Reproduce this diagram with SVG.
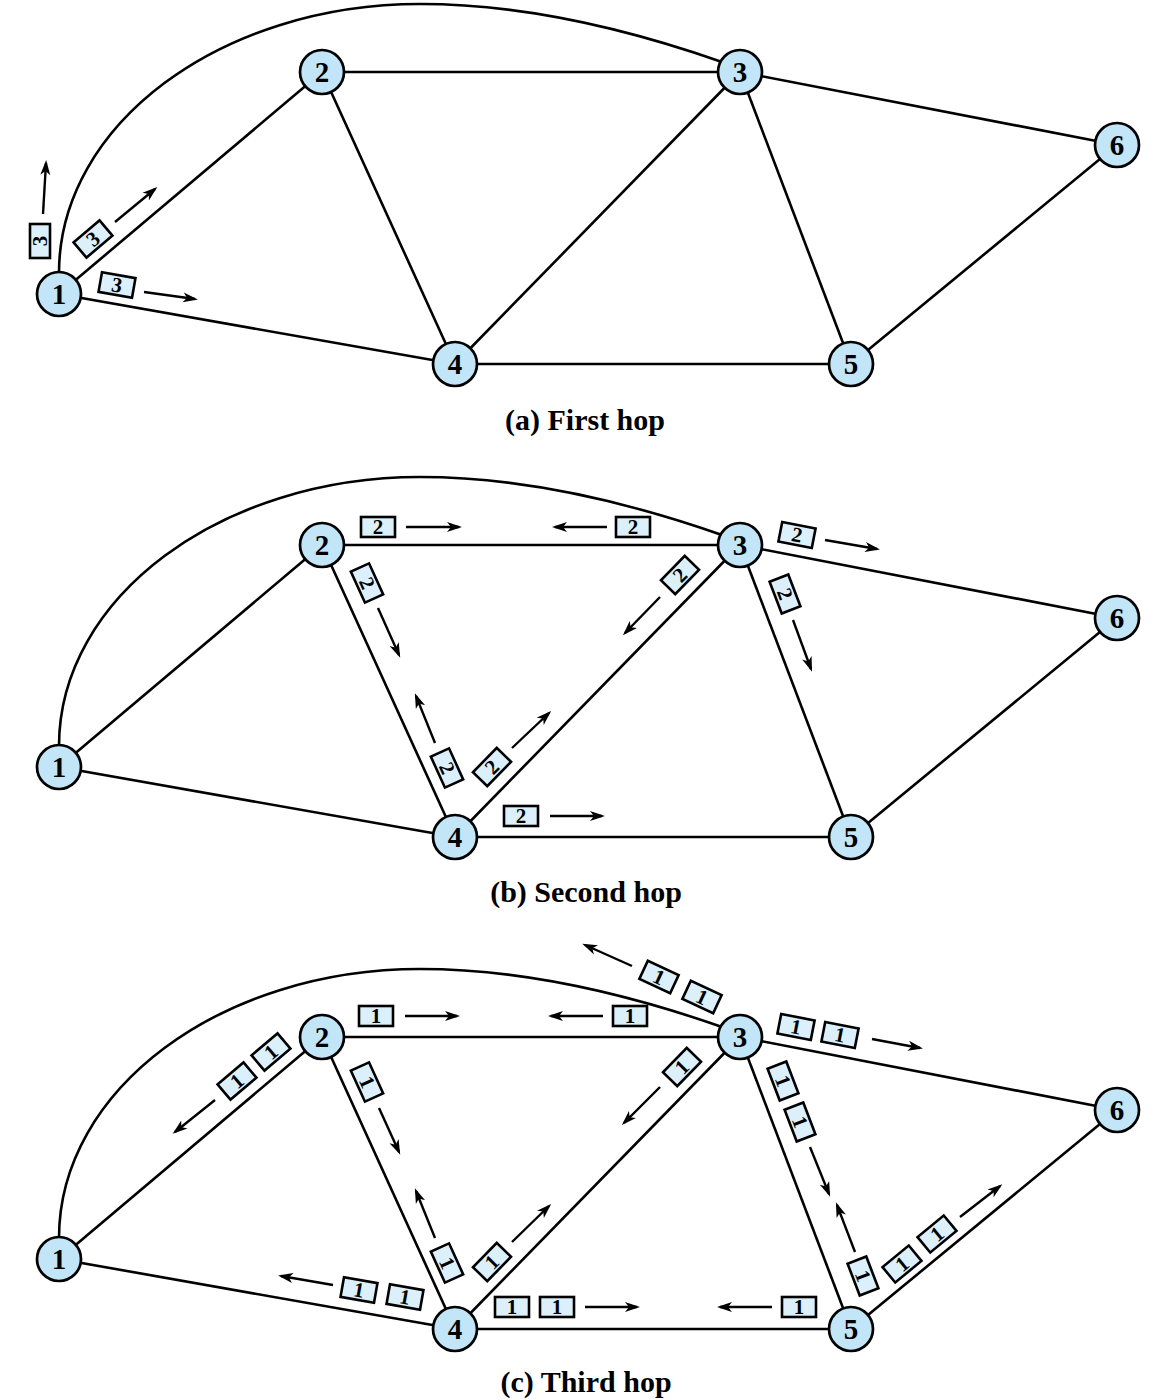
<svg xmlns="http://www.w3.org/2000/svg" width="1167" height="1400" viewBox="0 0 1167 1400">
<style>
.e{fill:none;stroke:#000;stroke-width:2.6}
.n{fill:#c2e5f7;stroke:#000;stroke-width:2.7}
.nt{font-family:"Liberation Serif",serif;font-weight:bold;font-size:29px;text-anchor:middle;fill:#000}
.pk{fill:#dcf0fb;stroke:#000;stroke-width:2.6}
.pt{font-family:"Liberation Serif",serif;font-weight:bold;font-size:21px;text-anchor:middle;fill:#000}
.ar{fill:none;stroke:#000;stroke-width:2.4;marker-end:url(#ah)}
.cap{font-family:"Liberation Serif",serif;font-weight:bold;font-size:30px;text-anchor:middle;fill:#000}
</style>
<defs>
<marker id="ah" markerUnits="userSpaceOnUse" markerWidth="16" markerHeight="12" viewBox="0 0 16 12" refX="12" refY="6" orient="auto">
<path d="M0,1 L15,6 L0,11 L4,6 z" fill="#000"/>
</marker>
</defs>

<!-- Panel (a) -->
<g id="panel-a">
<g id="a-edges">
<path class="e" d="M59,273 C59,124.5 220.7,4 420,4 C520,4 622,27 722,62"/>
<line class="e" x1="59" y1="294" x2="322" y2="72"/>
<line class="e" x1="59" y1="294" x2="455" y2="364"/>
<line class="e" x1="322" y1="72" x2="740" y2="72"/>
<line class="e" x1="322" y1="72" x2="455" y2="364"/>
<line class="e" x1="740" y1="72" x2="455" y2="364"/>
<line class="e" x1="740" y1="72" x2="851" y2="364"/>
<line class="e" x1="740" y1="72" x2="1117" y2="145"/>
<line class="e" x1="455" y1="364" x2="851" y2="364"/>
<line class="e" x1="851" y1="364" x2="1117" y2="145"/>
</g>
<g id="a-n1"><circle class="n" cx="59" cy="294" r="22"/><text class="nt" x="59" y="304">1</text></g>
<g id="a-n2"><circle class="n" cx="322" cy="72" r="22"/><text class="nt" x="322" y="82">2</text></g>
<g id="a-n3"><circle class="n" cx="740" cy="72" r="22"/><text class="nt" x="740" y="82">3</text></g>
<g id="a-n4"><circle class="n" cx="455" cy="364" r="22"/><text class="nt" x="455" y="374">4</text></g>
<g id="a-n5"><circle class="n" cx="851" cy="364" r="22"/><text class="nt" x="851" y="374">5</text></g>
<g id="a-n6"><circle class="n" cx="1117" cy="145" r="22"/><text class="nt" x="1117" y="155">6</text></g>
<g id="a-packets">
<g transform="translate(40,241) rotate(-90)"><rect class="pk" x="-17" y="-10" width="34" height="20"/><text class="pt" y="7">3</text></g>
<g transform="translate(93,239) rotate(-40.2)"><rect class="pk" x="-17" y="-10" width="34" height="20"/><text class="pt" y="7">3</text></g>
<g transform="translate(117,285) rotate(10)"><rect class="pk" x="-17" y="-10" width="34" height="20"/><text class="pt" y="7">3</text></g>
<line class="ar" x1="43" y1="214" x2="46" y2="163"/>
<line class="ar" x1="115" y1="222" x2="155" y2="189"/>
<line class="ar" x1="144" y1="292" x2="195" y2="299"/>
</g>
<text class="cap" x="585" y="430">(a) First hop</text>
</g>

<!-- Panel (b) -->
<g id="panel-b" transform="translate(0,473)">
<g id="b-edges">
<path class="e" d="M59,273 C59,124.5 220.7,4 420,4 C520,4 622,27 722,62"/>
<line class="e" x1="59" y1="294" x2="322" y2="72"/>
<line class="e" x1="59" y1="294" x2="455" y2="364"/>
<line class="e" x1="322" y1="72" x2="740" y2="72"/>
<line class="e" x1="322" y1="72" x2="455" y2="364"/>
<line class="e" x1="740" y1="72" x2="455" y2="364"/>
<line class="e" x1="740" y1="72" x2="851" y2="364"/>
<line class="e" x1="740" y1="72" x2="1117" y2="145"/>
<line class="e" x1="455" y1="364" x2="851" y2="364"/>
<line class="e" x1="851" y1="364" x2="1117" y2="145"/>
</g>
<g id="b-n1"><circle class="n" cx="59" cy="294" r="22"/><text class="nt" x="59" y="304">1</text></g>
<g id="b-n2"><circle class="n" cx="322" cy="72" r="22"/><text class="nt" x="322" y="82">2</text></g>
<g id="b-n3"><circle class="n" cx="740" cy="72" r="22"/><text class="nt" x="740" y="82">3</text></g>
<g id="b-n4"><circle class="n" cx="455" cy="364" r="22"/><text class="nt" x="455" y="374">4</text></g>
<g id="b-n5"><circle class="n" cx="851" cy="364" r="22"/><text class="nt" x="851" y="374">5</text></g>
<g id="b-n6"><circle class="n" cx="1117" cy="145" r="22"/><text class="nt" x="1117" y="155">6</text></g>
<g id="b-packets">
<g transform="translate(378,54)"><rect class="pk" x="-17" y="-10" width="34" height="20"/><text class="pt" y="7">2</text></g>
<g transform="translate(633,54)"><rect class="pk" x="-17" y="-10" width="34" height="20"/><text class="pt" y="7">2</text></g>
<g transform="translate(797,62) rotate(11)"><rect class="pk" x="-17" y="-10" width="34" height="20"/><text class="pt" y="7">2</text></g>
<g transform="translate(367,110) rotate(65.5)"><rect class="pk" x="-17" y="-10" width="34" height="20"/><text class="pt" y="7">2</text></g>
<g transform="translate(680,102) rotate(-45.6)"><rect class="pk" x="-17" y="-10" width="34" height="20"/><text class="pt" y="7">2</text></g>
<g transform="translate(785,121) rotate(69.1)"><rect class="pk" x="-17" y="-10" width="34" height="20"/><text class="pt" y="7">2</text></g>
<g transform="translate(447,295) rotate(65.5)"><rect class="pk" x="-17" y="-10" width="34" height="20"/><text class="pt" y="7">2</text></g>
<g transform="translate(492,294) rotate(-45.6)"><rect class="pk" x="-17" y="-10" width="34" height="20"/><text class="pt" y="7">2</text></g>
<g transform="translate(521,343)"><rect class="pk" x="-17" y="-10" width="34" height="20"/><text class="pt" y="7">2</text></g>
<line class="ar" x1="406" y1="54" x2="459" y2="54"/>
<line class="ar" x1="607" y1="54" x2="555" y2="54"/>
<line class="ar" x1="825" y1="67" x2="877" y2="76"/>
<line class="ar" x1="378" y1="135" x2="399" y2="182"/>
<line class="ar" x1="660" y1="124" x2="625" y2="160"/>
<line class="ar" x1="793" y1="147" x2="811" y2="196"/>
<line class="ar" x1="435" y1="270" x2="416" y2="223"/>
<line class="ar" x1="512" y1="275" x2="549" y2="240"/>
<line class="ar" x1="550" y1="343" x2="602" y2="343"/>
</g>
<text class="cap" x="586" y="429">(b) Second hop</text>
</g>

<!-- Panel (c) -->
<g id="panel-c" transform="translate(0,965)">
<g id="c-edges">
<path class="e" d="M59,273 C59,124.5 220.7,4 420,4 C520,4 622,27 722,62"/>
<line class="e" x1="59" y1="294" x2="322" y2="72"/>
<line class="e" x1="59" y1="294" x2="455" y2="364"/>
<line class="e" x1="322" y1="72" x2="740" y2="72"/>
<line class="e" x1="322" y1="72" x2="455" y2="364"/>
<line class="e" x1="740" y1="72" x2="455" y2="364"/>
<line class="e" x1="740" y1="72" x2="851" y2="364"/>
<line class="e" x1="740" y1="72" x2="1117" y2="145"/>
<line class="e" x1="455" y1="364" x2="851" y2="364"/>
<line class="e" x1="851" y1="364" x2="1117" y2="145"/>
</g>
<g id="c-n1"><circle class="n" cx="59" cy="294" r="22"/><text class="nt" x="59" y="304">1</text></g>
<g id="c-n2"><circle class="n" cx="322" cy="72" r="22"/><text class="nt" x="322" y="82">2</text></g>
<g id="c-n3"><circle class="n" cx="740" cy="72" r="22"/><text class="nt" x="740" y="82">3</text></g>
<g id="c-n4"><circle class="n" cx="455" cy="364" r="22"/><text class="nt" x="455" y="374">4</text></g>
<g id="c-n5"><circle class="n" cx="851" cy="364" r="22"/><text class="nt" x="851" y="374">5</text></g>
<g id="c-n6"><circle class="n" cx="1117" cy="145" r="22"/><text class="nt" x="1117" y="155">6</text></g>
<g id="c-packets">
<g transform="translate(659,12) rotate(25)"><rect class="pk" x="-17" y="-10" width="34" height="20"/><text class="pt" y="7">1</text></g>
<g transform="translate(702,32) rotate(25)"><rect class="pk" x="-17" y="-10" width="34" height="20"/><text class="pt" y="7">1</text></g>
<g transform="translate(376,51)"><rect class="pk" x="-17" y="-10" width="34" height="20"/><text class="pt" y="7">1</text></g>
<g transform="translate(630,51)"><rect class="pk" x="-17" y="-10" width="34" height="20"/><text class="pt" y="7">1</text></g>
<g transform="translate(796,62) rotate(11)"><rect class="pk" x="-17" y="-10" width="34" height="20"/><text class="pt" y="7">1</text></g>
<g transform="translate(840,70) rotate(11)"><rect class="pk" x="-17" y="-10" width="34" height="20"/><text class="pt" y="7">1</text></g>
<g transform="translate(237,116) rotate(-40.2)"><rect class="pk" x="-17" y="-10" width="34" height="20"/><text class="pt" y="7">1</text></g>
<g transform="translate(271,87) rotate(-40.2)"><rect class="pk" x="-17" y="-10" width="34" height="20"/><text class="pt" y="7">1</text></g>
<g transform="translate(367,117) rotate(65.5)"><rect class="pk" x="-17" y="-10" width="34" height="20"/><text class="pt" y="7">1</text></g>
<g transform="translate(682,102) rotate(-45.6)"><rect class="pk" x="-17" y="-10" width="34" height="20"/><text class="pt" y="7">1</text></g>
<g transform="translate(783,116) rotate(69.1)"><rect class="pk" x="-17" y="-10" width="34" height="20"/><text class="pt" y="7">1</text></g>
<g transform="translate(800,157) rotate(69.1)"><rect class="pk" x="-17" y="-10" width="34" height="20"/><text class="pt" y="7">1</text></g>
<g transform="translate(359,325) rotate(10)"><rect class="pk" x="-17" y="-10" width="34" height="20"/><text class="pt" y="7">1</text></g>
<g transform="translate(405,332) rotate(10)"><rect class="pk" x="-17" y="-10" width="34" height="20"/><text class="pt" y="7">1</text></g>
<g transform="translate(447,298) rotate(65.5)"><rect class="pk" x="-17" y="-10" width="34" height="20"/><text class="pt" y="7">1</text></g>
<g transform="translate(492,297) rotate(-45.6)"><rect class="pk" x="-17" y="-10" width="34" height="20"/><text class="pt" y="7">1</text></g>
<g transform="translate(512,342)"><rect class="pk" x="-17" y="-10" width="34" height="20"/><text class="pt" y="7">1</text></g>
<g transform="translate(557,342)"><rect class="pk" x="-17" y="-10" width="34" height="20"/><text class="pt" y="7">1</text></g>
<g transform="translate(799,342)"><rect class="pk" x="-17" y="-10" width="34" height="20"/><text class="pt" y="7">1</text></g>
<g transform="translate(863,311) rotate(69.1)"><rect class="pk" x="-17" y="-10" width="34" height="20"/><text class="pt" y="7">1</text></g>
<g transform="translate(902,299) rotate(-39.5)"><rect class="pk" x="-17" y="-10" width="34" height="20"/><text class="pt" y="7">1</text></g>
<g transform="translate(937,269) rotate(-39.5)"><rect class="pk" x="-17" y="-10" width="34" height="20"/><text class="pt" y="7">1</text></g>
<line class="ar" x1="632" y1="1" x2="585" y2="-20"/>
<line class="ar" x1="405" y1="51" x2="457" y2="51"/>
<line class="ar" x1="603" y1="51" x2="551" y2="51"/>
<line class="ar" x1="872" y1="74" x2="920" y2="83"/>
<line class="ar" x1="215" y1="135" x2="175" y2="167"/>
<line class="ar" x1="379" y1="143" x2="399" y2="187"/>
<line class="ar" x1="660" y1="122" x2="624" y2="158"/>
<line class="ar" x1="810" y1="182" x2="829" y2="229"/>
<line class="ar" x1="333" y1="320" x2="281" y2="311"/>
<line class="ar" x1="435" y1="273" x2="416" y2="226"/>
<line class="ar" x1="512" y1="277" x2="549" y2="241"/>
<line class="ar" x1="585" y1="342" x2="637" y2="342"/>
<line class="ar" x1="772" y1="342" x2="720" y2="342"/>
<line class="ar" x1="855" y1="287" x2="837" y2="240"/>
<line class="ar" x1="960" y1="252" x2="1000" y2="221"/>
</g>
<text class="cap" x="586" y="427">(c) Third hop</text>
</g>
</svg>
